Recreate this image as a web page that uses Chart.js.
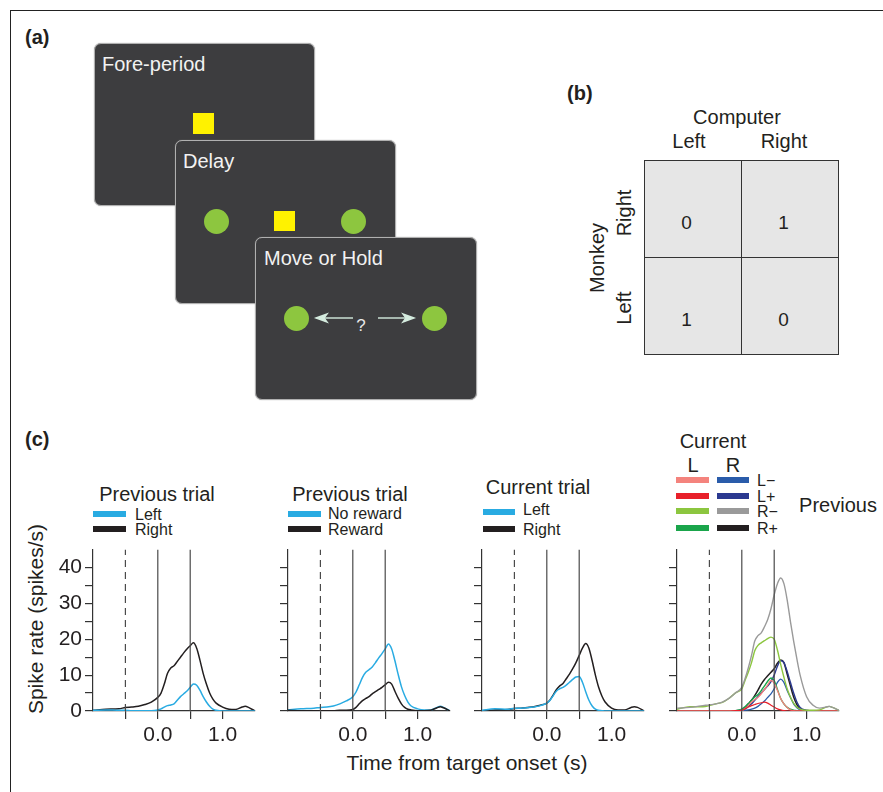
<!DOCTYPE html>
<html>
<head>
<meta charset="utf-8">
<script src="https://cdn.jsdelivr.net/npm/chart.js@4.4.1/dist/chart.umd.min.js"></script>
<style>
  html,body{margin:0;padding:0;background:#fff;}
  #fig{position:relative;width:883px;height:792px;overflow:hidden;font-family:"Liberation Sans",Arial,Helvetica,sans-serif;color:#231f20;}
  .frame{position:absolute;left:10px;top:10px;width:900px;height:800px;border-top:1.5px solid #222;border-left:1.5px solid #222;}
  .t{position:absolute;white-space:nowrap;line-height:1;}
  .c{transform:translate(-50%,-50%);}
  .l{transform:translateY(-50%);}
  .box{position:absolute;background:#3d3d3f;border:1px solid #b0b0b0;border-radius:7px;box-shadow:0 0 1px #888;}
  .sq{position:absolute;background:#fff200;}
  .dot{position:absolute;background:#8dc63f;border-radius:50%;}
  .sw{position:absolute;height:6px;}
  canvas{position:absolute;}
  .cell{position:absolute;background:#e6e6e6;border:1px solid #333;box-sizing:border-box;}
</style>
</head>
<body>
<div id="fig">
  <div class="frame"></div>

  <!-- (a) -->
  <div class="t l" style="left:25px;top:37px;font-size:20px;font-weight:bold;">(a)</div>
  <div class="box" style="left:94px;top:43px;width:219px;height:161px;"></div>
  <div class="t l" style="left:102px;top:64px;font-size:20px;color:#f2f2f2;">Fore-period</div>
  <div class="sq" style="left:193px;top:113px;width:21px;height:21px;"></div>
  <div class="box" style="left:175px;top:140px;width:219px;height:162px;"></div>
  <div class="t l" style="left:183px;top:161px;font-size:20px;color:#f2f2f2;">Delay</div>
  <div class="dot" style="left:204px;top:209px;width:25px;height:25px;"></div>
  <div class="sq" style="left:274px;top:211px;width:21px;height:20px;"></div>
  <div class="dot" style="left:341px;top:209px;width:25px;height:25px;"></div>
  <div class="box" style="left:255px;top:237px;width:220px;height:161px;"></div>
  <div class="t l" style="left:264px;top:258px;font-size:20px;color:#f2f2f2;">Move or Hold</div>
  <div class="dot" style="left:284px;top:306px;width:25px;height:25px;"></div>
  <div class="dot" style="left:422px;top:306px;width:25px;height:25px;"></div>
  <svg style="position:absolute;left:0;top:0" width="883" height="420">
    <g stroke="#d5ecdf" stroke-width="1.4" fill="#d5ecdf">
      <line x1="353" y1="318" x2="322" y2="318"/>
      <polygon points="316,318 327,314 324,318 327,322"/>
      <line x1="378" y1="318" x2="408" y2="318"/>
      <polygon points="414,318 403,314 406,318 403,322"/>
    </g>
  </svg>
  <div class="t c" style="left:361px;top:325px;font-size:17px;color:#e8e8e8;">?</div>

  <!-- (b) -->
  <div class="t l" style="left:567px;top:93px;font-size:20px;font-weight:bold;">(b)</div>
  <div class="t c" style="left:737px;top:117px;font-size:20px;">Computer</div>
  <div class="t c" style="left:689px;top:141px;font-size:20px;">Left</div>
  <div class="t c" style="left:784px;top:141px;font-size:20px;">Right</div>
  <div class="t c" style="left:597px;top:258px;font-size:20px;transform:translate(-50%,-50%) rotate(-90deg);">Monkey</div>
  <div class="t c" style="left:624px;top:213px;font-size:20px;transform:translate(-50%,-50%) rotate(-90deg);">Right</div>
  <div class="t c" style="left:624px;top:308px;font-size:20px;transform:translate(-50%,-50%) rotate(-90deg);">Left</div>
  <div id="payoff"></div>

  <!-- (c) -->
  <div class="t l" style="left:25px;top:439px;font-size:20px;font-weight:bold;">(c)</div>
  <div class="t c" style="left:35px;top:619px;font-size:21px;transform:translate(-50%,-50%) rotate(-90deg);">Spike rate (spikes/s)</div>
  <div class="t c" style="left:467px;top:762px;font-size:21px;">Time from target onset (s)</div>

  <div class="t c" style="left:157px;top:494px;font-size:20px;">Previous trial</div>
  <div class="sw" style="left:93px;top:511px;width:33px;background:#29abe2;"></div>
  <div class="t l" style="left:135px;top:515px;font-size:16px;">Left</div>
  <div class="sw" style="left:93px;top:526px;width:33px;background:#231f20;"></div>
  <div class="t l" style="left:135px;top:530px;font-size:16px;">Right</div>

  <div class="t c" style="left:350px;top:494px;font-size:20px;">Previous trial</div>
  <div class="sw" style="left:288px;top:511px;width:33px;background:#29abe2;"></div>
  <div class="t l" style="left:328px;top:514px;font-size:16px;">No reward</div>
  <div class="sw" style="left:288px;top:526px;width:33px;background:#231f20;"></div>
  <div class="t l" style="left:328px;top:530px;font-size:16px;">Reward</div>

  <div class="t c" style="left:538px;top:487px;font-size:20px;">Current trial</div>
  <div class="sw" style="left:483px;top:509px;width:32px;background:#29abe2;"></div>
  <div class="t l" style="left:523px;top:510px;font-size:16px;">Left</div>
  <div class="sw" style="left:483px;top:526px;width:32px;background:#231f20;"></div>
  <div class="t l" style="left:523px;top:530px;font-size:16px;">Right</div>

  <div class="t c" style="left:713px;top:441px;font-size:20px;">Current</div>
  <div class="t c" style="left:693px;top:465px;font-size:20px;">L</div>
  <div class="t c" style="left:733px;top:465px;font-size:20px;">R</div>
  <div id="leg4"></div>
  <div class="t c" style="left:838px;top:505px;font-size:20px;">Previous</div>
</div>

<script>
// ---------- data ----------
const prevLabels = ["L\u2212", "L+", "R\u2212", "R+"];
const payoffRows = ["Right", "Left"];          // monkey choice
const payoffCols = ["Left", "Right"];          // computer choice
const payoff = [[0, 1], [1, 0]];

const time = [-1.0,-0.8,-0.6,-0.5,-0.4,-0.3,-0.2,-0.1,
  0,0.05,0.1,0.15,0.2,0.25,0.3,0.35,0.4,0.45,0.5,0.55,0.6,0.65,0.7,0.75,0.8,0.85,0.9,
  1.0,1.1,1.2,1.3,1.35,1.4,1.5];
const eventTimes = [-0.5, 0, 0.5];
const yTickValues = [0,5,10,15,20,25,30,35,40];
const xTickValues = [-0.5,0,0.5,1.0];

// panel 1: previous trial choice
const prevLeft  = [0.2,0.3,0.2,0.2,0.1,0.1,0.1,0.1, 0.3,0.6,1.1,1.5,1.7,2.0,3.0,4.0,4.8,5.6,6.6,7.5,7.2,5.8,4.0,2.5,1.3,0.5,0.2, 0,0,0,0,0,0,0];
const prevRight = [0.2,0.5,0.6,1.0,1.1,1.3,1.8,2.5, 3.8,5.0,7.5,10.5,12.0,12.6,13.8,15.0,16.2,17.3,18.2,19.0,17.5,14.2,10.5,7.5,5.0,3.3,2.2, 1.1,0.5,0.4,1.1,1.3,1.0,0];
// panel 2: previous trial outcome
const noReward  = [0.3,0.6,0.8,1.0,1.1,1.4,2.0,2.8, 4.0,5.3,7.3,9.4,10.8,11.5,12.3,13.5,14.8,16.0,17.3,18.7,17.3,14.0,10.2,6.8,4.3,2.5,1.4, 0.6,0.3,0.3,1.0,1.3,1.0,0];
const reward    = [0.2,0.1,0.1,0.1,0.1,0.1,0.2,0.2, 0.4,1.0,2.0,2.9,3.5,4.0,4.8,5.4,6.0,6.6,7.3,8.0,7.5,5.5,3.6,2.0,1.0,0.5,0.3, 0.1,0.1,0.2,0.9,1.2,0.9,0];
// panel 3: current trial choice
const curLeft   = [0.2,0.6,0.5,0.8,0.8,0.9,1.1,1.5, 2.2,3.0,4.3,5.6,6.2,6.6,7.2,8.0,8.8,9.5,9.6,8.0,5.4,3.0,1.4,0.5,0.2,0.1,0, 0,0,0,0,0,0,0];
const curRight  = [0.1,0.3,0.4,0.7,0.8,1.0,1.2,1.6, 2.2,3.1,4.5,6.0,7.0,7.7,9.0,10.3,11.8,13.5,15.5,17.5,18.8,17.5,14.0,10.0,6.6,4.2,2.5, 0.8,0.3,0.3,1.0,1.2,1.0,0];
// panel 4: current (L/R) x previous (choice, outcome)
const curL_prevLminus = [0,0,0,0,0,0,0,0.1, 0.2,0.7,1.5,2.5,3.2,3.8,4.8,6.0,7.3,8.5,7.8,5.7,3.5,2.0,1.0,0.3,0.1,0,0, 0,0,0,0,0,0,0];
const curL_prevLplus  = [0,0,0,0,0,0,0,0.1, 0.2,0.6,1.1,1.5,1.8,2.1,2.3,2.5,2.2,1.6,1.1,0.6,0.3,0.1,0,0,0,0,0, 0,0,0,0,0,0,0];
const curL_prevRminus = [0.5,1.2,1.2,1.5,2.0,2.4,3.5,5.0, 6.2,8.5,10.8,13.5,16.8,18.3,19.0,19.6,20.2,20.6,20.0,17.0,13.0,9.4,6.2,3.9,2.2,1.1,0.5, 0.2,0.2,0.3,1.1,1.3,1.0,0.2];
const curL_prevRplus  = [0,0,0,0,0,0,0,0.1, 0.5,1.2,2.0,3.0,3.9,4.6,5.7,7.0,8.3,9.2,8.5,6.0,3.5,2.0,1.0,0.5,0.2,0.1,0, 0,0,0,0,0,0,0];
const curR_prevLminus = [0,0,0,0,0,0,0,0, 0.1,0.2,0.3,0.5,0.8,1.3,2.0,2.8,3.8,4.8,6.2,8.0,8.9,8.0,5.7,3.8,2.0,0.9,0.3, 0,0,0,0,0,0,0];
const curR_prevLplus  = [0,0,0,0,0,0,0,0.1, 0.2,0.6,1.2,2.0,3.0,4.0,5.0,6.0,7.0,8.2,10.0,12.5,14.0,13.5,11.0,8.0,5.0,2.5,1.0, 0.2,0,0,0,0,0,0];
const curR_prevRminus = [0.8,1.0,1.5,1.7,2.0,2.5,3.5,5.0, 6.6,9.0,12.0,15.5,19.5,21.0,21.8,23.5,25.5,28.5,32.4,35.5,37.1,35.5,31.0,25.0,19.5,14.5,10.0, 4.0,1.6,0.8,1.1,1.3,1.0,0.2];
const curR_prevRplus  = [0.1,0.1,0.1,0.1,0.1,0.1,0.1,0.1, 0.3,1.0,2.0,3.0,4.3,5.8,7.5,8.8,9.8,10.8,11.8,13.3,14.2,13.5,10.3,7.0,3.9,1.8,0.6, 0.1,0,0,0,0,0,0];

// ---------- styles ----------
const CYAN = "#29abe2", BLACK = "#231f20";
const colL = ["#f4837d", "#e8202a", "#8cc63f", "#1aa54b"];  // current L: prev L-, L+, R-, R+
const colR = ["#2a5caa", "#2b3990", "#9a9a9a", "#231f20"];  // current R: prev L-, L+, R-, R+

// payoff table
(function(){
  const host = document.getElementById('payoff');
  const x0 = 644, y0 = 160, s = 97;
  payoffRows.forEach((r, i) => payoffCols.forEach((c, j) => {
    const d = document.createElement('div');
    d.className = 'cell';
    d.style.cssText = `left:${x0 + j*s}px;top:${y0 + i*s}px;width:${s+1}px;height:${s+1}px;`;
    host.appendChild(d);
    const t = document.createElement('div');
    t.className = 't c';
    t.style.cssText = `left:${x0 + j*s + s/2 - 6}px;top:${y0 + i*s + s/2 + 13}px;font-size:19px;`;
    t.textContent = payoff[i][j];
    host.appendChild(t);
  }));
})();

// panel 4 legend
(function(){
  const host = document.getElementById('leg4');
  const ys = [480, 496, 511, 528];
  prevLabels.forEach((lab, i) => {
    const a = document.createElement('div');
    a.className = 'sw'; a.style.cssText = `left:676px;top:${ys[i]-3}px;width:33px;background:${colL[i]};`;
    const b = document.createElement('div');
    b.className = 'sw'; b.style.cssText = `left:717px;top:${ys[i]-3}px;width:32px;background:${colR[i]};`;
    const t = document.createElement('div');
    t.className = 't l'; t.style.cssText = `left:757px;top:${ys[i]+1}px;font-size:16px;`;
    t.textContent = lab;
    host.append(a, b, t);
  });
})();

// ---------- charts ----------
const fig = document.getElementById('fig');
const YW = 70, PW = 162, PH = 163, PT = 14, PR = 13, XH = 40;

function series(vals, color, w) {
  return { data: time.map((t, i) => ({x: t, y: vals[i]})), borderColor: color,
    borderWidth: w || 1.5, pointRadius: 0, tension: 0.4, cubicInterpolationMode: 'monotone', fill: false };
}
function eventLines() {
  return eventTimes.map(t => ({ data: [{x: t, y: 0}, {x: t, y: 45}], borderColor: '#4a4a4a',
    borderWidth: 1.2, borderDash: t < 0 ? [7, 5] : [], pointRadius: 0, fill: false }));
}
function makeChart(plotLeft, lines, showY) {
  const cv = document.createElement('canvas');
  const W = YW + PW + PR, H = PT + PH + XH;
  cv.width = W; cv.height = H;
  cv.style.left = (plotLeft - YW) + 'px'; cv.style.top = (548 - PT) + 'px';
  cv.style.width = W + 'px'; cv.style.height = H + 'px';
  fig.appendChild(cv);
  new Chart(cv, {
    type: 'line',
    data: { datasets: eventLines().concat(lines) },
    options: {
      responsive: false, animation: false, devicePixelRatio: 1,
      layout: { padding: { top: PT, right: PR, left: 0, bottom: 0 } },
      plugins: { legend: { display: false }, tooltip: { enabled: false } },
      scales: {
        x: { type: 'linear', min: -1, max: 1.5,
          afterBuildTicks: s => { s.ticks = xTickValues.map(v => ({ value: v })); },
          afterFit: s => { s.height = XH; },
          ticks: { autoSkip: false, maxRotation: 0, padding: 4, color: '#231f20',
            font: { family: '"Liberation Sans", Arial', size: 21 },
            callback: v => (v === 0 ? '0.0' : v === 1 ? '1.0' : '') },
          grid: { drawOnChartArea: false, drawTicks: true, tickLength: 8, color: '#333', lineWidth: 1.2 },
          border: { display: true, color: '#333', width: 1.2 } },
        y: { type: 'linear', min: 0, max: 45,
          afterBuildTicks: s => { s.ticks = yTickValues.map(v => ({ value: v })); },
          afterFit: s => { s.width = YW; },
          ticks: { autoSkip: false, padding: 3, color: '#231f20',
            font: { family: '"Liberation Sans", Arial', size: 21 },
            callback: v => (showY && v % 10 === 0 ? String(v) : '') },
          grid: { drawOnChartArea: false, drawTicks: true, tickLength: 8, color: '#333', lineWidth: 1.2 },
          border: { display: true, color: '#333', width: 1.2 } }
      }
    }
  });
}

makeChart(93, [series(prevLeft, CYAN), series(prevRight, BLACK)], true);
makeChart(288, [series(reward, BLACK), series(noReward, CYAN)], false);
makeChart(482, [series(curLeft, CYAN), series(curRight, BLACK)], false);
makeChart(677, [
  series(curR_prevRminus, colR[2], 1.4),
  series(curL_prevRminus, colL[2], 1.4),
  series(curL_prevLplus, colL[1], 1.2),
  series(curL_prevLminus, colL[0], 1.3),
  series(curL_prevRplus, colL[3], 1.4),
  series(curR_prevLminus, colR[0], 1.3),
  series(curR_prevLplus, colR[1], 1.4),
  series(curR_prevRplus, colR[3], 1.5)
], false);
</script>
</body>
</html>
